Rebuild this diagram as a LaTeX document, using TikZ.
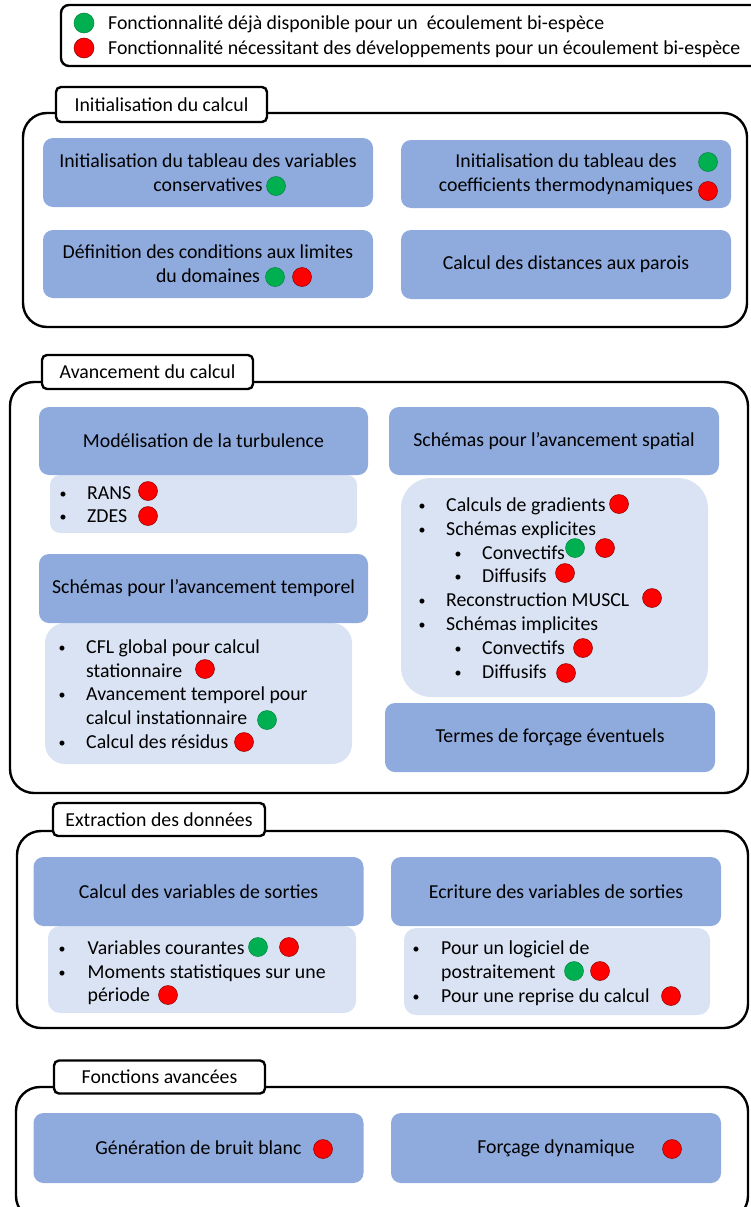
\documentclass[tikz,border=0pt]{standalone}
\usepackage{fontspec}
\setmainfont{Carlito}
\definecolor{dk}{HTML}{8FAADC}
\definecolor{lt}{HTML}{DAE3F3}
\definecolor{gn}{HTML}{00B050}
\definecolor{rd}{HTML}{FF0000}
\newcommand\fs{\fontsize{19.8}{24}\selectfont}
\newcommand\fsl{\fontsize{19.8}{24}\selectfont}
\newcommand\fsb{\fontsize{14}{16}\selectfont}
\begin{document}
\begin{tikzpicture}[x=1pt,y=-1pt,
  outer/.style={draw, line width=2.4pt, rounded corners=24pt, inner sep=0},
  tab/.style={draw, fill=white, line width=2.4pt, rounded corners=5pt, inner sep=0, font=\fs},
  dbox/.style={fill=dk, rounded corners=10pt, minimum width=330pt, minimum height=69pt, align=center, font=\fs, inner sep=0},
  lbox/.style={fill=lt, inner sep=0},
  li/.style={anchor=west, inner sep=0, text height=14.8pt, text depth=2pt, font=\fs},
  bu/.style={anchor=center, inner sep=0, text height=10.4pt, text depth=0pt, font=\fsb},
  gdot/.style={circle, fill=gn, draw=gn!75!black, line width=0.5pt, minimum size=19pt, inner sep=0},
  rdot/.style={circle, fill=rd, draw=rd!55!black, line width=0.5pt, minimum size=19pt, inner sep=0}
]
\useasboundingbox (0,0) rectangle (750,1207);

% legend
\node[draw, line width=2.4pt, rounded corners=8pt, minimum width=709pt, minimum height=61pt, inner sep=0] (leg) at (415.5,35.5) {};
\node[gdot, minimum size=20pt] (lg) at (84,23) {};
\node[rdot, minimum size=20pt] (lr) at (84,48) {};
\node[li, font=\fsl] (lgt) at (108,23) {Fonctionnalité déjà disponible pour un \ écoulement bi-espèce};
\node[li, font=\fsl] (lrt) at (108,48) {Fonctionnalité nécessitant des développements pour un écoulement bi-espèce};

% ---------- Section 1
\node[outer, minimum width=724pt, minimum height=214pt] (s1) at (385,220) {};
\node[tab, minimum width=211pt, minimum height=35pt] (t1) at (161.5,104.5) {Initialisation du calcul};
\node[dbox] (b1) at (208,172.5) {Initialisation du tableau des variables\\conservatives};
\node[dbox, minimum height=68pt] (b2) at (566,174) {Initialisation du tableau des\\coefficients thermodynamiques};
\node[dbox, minimum height=68pt] (b3) at (208,264) {Définition des conditions aux limites\\du domaines};
\node[dbox] (b4) at (566,264.5) {Calcul des distances aux parois};
\node[gdot] (d1) at (276,186) {};
\node[gdot] (d2) at (708,162) {};
\node[rdot] (d3) at (708,191) {};
\node[gdot] (d4) at (275,277) {};
\node[rdot] (d5) at (302,277) {};

% ---------- Section 2
\node[outer, minimum width=738pt, minimum height=411pt] (s2) at (379,587.5) {};
\node[tab, minimum width=211pt, minimum height=34pt] (t2) at (147.5,372) {Avancement du calcul};

\node[lbox, rounded corners=10pt, minimum width=307pt, minimum height=58pt] (lturb) at (203.5,504) {};
\node[dbox, minimum width=329pt, minimum height=68pt] (turb) at (203.5,441) {Modélisation de la turbulence};
\node[bu] (tb1) at (63,493) {•};
\node[li] (tt1) at (87,493) {RANS};
\node[rdot] (td1) at (148,491) {};
\node[bu] (tb2) at (63,516) {•};
\node[li] (tt2) at (87,516) {ZDES};
\node[rdot] (td2) at (148,516) {};

\node[lbox, rounded corners=20pt, minimum width=307pt, minimum height=141pt] (ltemp) at (198.5,693.5) {};
\node[dbox, minimum width=329pt] (temp) at (203.5,588.5) {Schémas pour l’avancement temporel};
\node[bu] (pb1) at (62,647) {•};
\node[li] (pt1) at (86,647) {CFL global pour calcul};
\node[li] (pt1b) at (86,671) {stationnaire};
\node[rdot] (pd1) at (205,669) {};
\node[bu] (pb2) at (62,694) {•};
\node[li] (pt2) at (86,694) {Avancement temporel pour};
\node[li] (pt2b) at (86,718) {calcul instationnaire};
\node[gdot] (pd2) at (267,720) {};
\node[bu] (pb3) at (62,742) {•};
\node[li] (pt3) at (86,742) {Calcul des résidus};
\node[rdot] (pd3) at (244,742) {};

\node[lbox, rounded corners=30pt, minimum width=307pt, minimum height=219pt] (lspat) at (554.5,587.5) {};
\node[dbox, minimum height=68pt] (spat) at (554,441) {Schémas pour l’avancement spatial};
\node[bu] (sb1) at (422,505) {•};
\node[li] (st1) at (446,505) {Calculs de gradients};
\node[rdot] (sd1) at (619,504) {};
\node[bu] (sb2) at (422,529) {•};
\node[li] (st2) at (446,529) {Schémas explicites};
\node[bu] (sb3) at (458,553) {•};
\node[li] (st3) at (482,553) {Convectifs};
\node[gdot] (sd3a) at (575,548) {};
\node[rdot] (sd3b) at (605,548) {};
\node[bu] (sb4) at (458,576) {•};
\node[li] (st4) at (482,576) {Diffusifs};
\node[rdot] (sd4) at (565,573) {};
\node[bu] (sb5) at (422,600) {•};
\node[li] (st5) at (446,600) {Reconstruction MUSCL};
\node[rdot] (sd5) at (652,598) {};
\node[bu] (sb6) at (422,624) {•};
\node[li] (st6) at (446,624) {Schémas implicites};
\node[bu] (sb7) at (458,648) {•};
\node[li] (st7) at (482,648) {Convectifs};
\node[rdot] (sd7) at (583,648) {};
\node[bu] (sb8) at (458,672) {•};
\node[li] (st8) at (482,672) {Diffusifs};
\node[rdot] (sd8) at (566,673) {};

\node[dbox] (term) at (550,737.5) {Termes de forçage éventuels};

% ---------- Section 3
\node[outer, minimum width=731pt, minimum height=197pt] (s3) at (382.5,929.5) {};
\node[tab, minimum width=212pt, minimum height=33pt] (t3) at (159,819.5) {Extraction des données};

\node[lbox, rounded corners=12pt, minimum width=308pt, minimum height=87pt] (lcalc) at (202,969.5) {};
\node[dbox] (calc) at (198.5,891.5) {Calcul des variables de sorties};
\node[bu] (cb1) at (62,948) {•};
\node[li] (ct1) at (87.5,948) {Variables courantes};
\node[gdot] (cd1a) at (258,947) {};
\node[rdot] (cd1b) at (289,947) {};
\node[bu] (cb2) at (62,972) {•};
\node[li] (ct2) at (87.5,972) {Moments statistiques sur une};
\node[li] (ct2b) at (87.5,995) {période};
\node[rdot] (cd2) at (168,995) {};

\node[lbox, rounded corners=12pt, minimum width=306pt, minimum height=87pt] (lecri) at (557,971.5) {};
\node[dbox] (ecri) at (556,891.5) {Ecriture des variables de sorties};
\node[bu] (eb1) at (416,948) {•};
\node[li] (et1) at (441,948) {Pour un logiciel de};
\node[li] (et1b) at (441,972) {postraitement};
\node[gdot] (ed1a) at (574,971) {};
\node[rdot] (ed1b) at (600,971) {};
\node[bu] (eb2) at (416,996) {•};
\node[li] (et2) at (441,996) {Pour une reprise du calcul};
\node[rdot] (ed2) at (671,996) {};

% ---------- Section 4
\node[outer, minimum width=732pt, minimum height=133pt] (s4) at (382,1153.5) {};
\node[tab, minimum width=211pt, minimum height=33pt] (t4) at (159.5,1077) {Fonctions avancées};
\node[dbox, minimum height=70pt] (gen) at (198.5,1148) {Génération de bruit blanc};
\node[rdot] (gd) at (323,1149) {};
\node[dbox, minimum height=70pt] (forc) at (556,1148) {Forçage dynamique};
\node[rdot] (fd) at (672,1149) {};
\end{tikzpicture}
\end{document}
